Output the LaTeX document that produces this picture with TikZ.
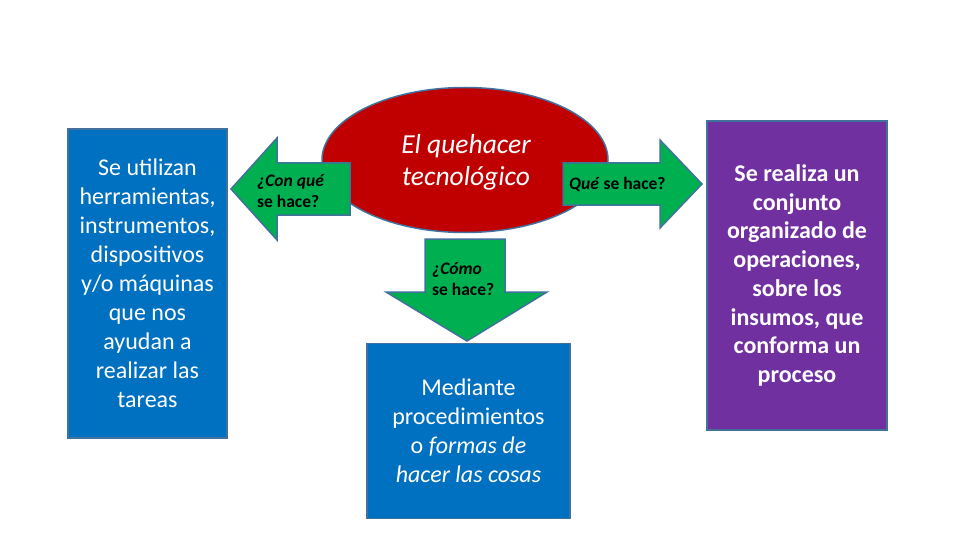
\documentclass[tikz,border=0pt]{standalone}
\usepackage{fontspec}
\setmainfont{Carlito}
\usetikzlibrary{shapes.geometric}
\definecolor{boxblue}{HTML}{0070C0}
\definecolor{boxpurple}{HTML}{7030A0}
\definecolor{ellred}{HTML}{C00000}
\definecolor{arrgreen}{HTML}{00B050}
\definecolor{edge}{HTML}{41719C}
\tikzset{
  panel/.style={draw=edge, line width=1.5pt, text=white, align=center, inner sep=0pt,
    font=\fontsize{24}{29}\selectfont},
  blockarrow/.style={draw=edge, line width=1.5pt, fill=arrgreen},
  qtext/.style={align=left, inner sep=0pt, text=black, font=\fontsize{17.5}{21}\selectfont\bfseries}
}
\begin{document}
\begin{tikzpicture}[x=1pt,y=-1pt]
\useasboundingbox (0,0) rectangle (960,540);
% central ellipse
\node[ellipse, draw=edge, line width=1.5pt, fill=ellred, minimum width=286pt, minimum height=145pt] (core) at (465,160) {};
\node[text=white, align=center, inner sep=0pt, font=\fontsize{27.5}{32}\selectfont\itshape] (coretext) at (466,162.5)
  {El quehacer\\tecnológico};
% left box
\node[panel, fill=boxblue, minimum width=159pt, minimum height=309pt] (tools) at (147.5,283.5)
  {Se utilizan\\herramientas,\\instrumentos,\\dispositivos\\y/o máquinas\\que nos\\ayudan a\\realizar las\\tareas};
% right box
\node[panel, fill=boxpurple, minimum width=180pt, minimum height=309pt,
  font=\fontsize{24}{28.7}\selectfont\bfseries] (process) at (797,275.5)
  {Se realiza un\\conjunto\\organizado de\\operaciones,\\sobre los\\insumos, que\\conforma un\\proceso};
% bottom box
\node[panel, fill=boxblue, minimum width=203pt, minimum height=175pt] (method) at (468.5,431)
  {Mediante\\procedimientos\\o \textit{formas de}\\\textit{hacer las cosas}};
% left arrow
\draw[blockarrow] (350,163) -- (277,163) -- (277,138) -- (231,189) -- (277,240) -- (277,215) -- (350,215) -- cycle;
\node[qtext, anchor=west] (qwith) at (257,191) {\textit{¿Con qué}\\se hace?};
% right arrow
\draw[blockarrow] (563,163) -- (660,163) -- (660,140) -- (702,184) -- (660,228) -- (660,205) -- (563,205) -- cycle;
\node[qtext, anchor=west] (qwhat) at (569,184) {\textit{Qué} se hace?};
% down arrow
\draw[blockarrow] (425,239) -- (505,239) -- (505,292) -- (547,292) -- (467,341) -- (386,292) -- (425,292) -- cycle;
\node[qtext, anchor=west] (qhow) at (432,279) {\textit{¿Cómo}\\se hace?};
\end{tikzpicture}
\end{document}
